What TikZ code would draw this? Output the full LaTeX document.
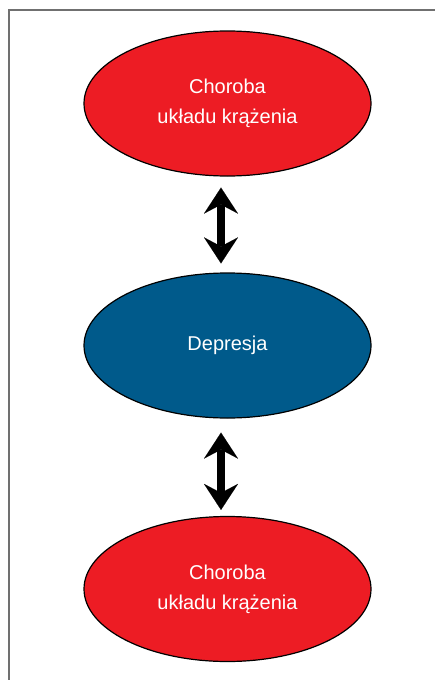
\documentclass[tikz,border=0pt]{standalone}
\usepackage{fontspec}
\setmainfont{Liberation Sans}
\usetikzlibrary{shapes.geometric,arrows.meta}
\definecolor{redfill}{HTML}{ED1C24}
\definecolor{bluefill}{HTML}{005A8B}
\definecolor{framegray}{HTML}{707070}
\tikzset{
  oval/.style={ellipse, draw=black, line width=1.2pt, minimum width=287pt, minimum height=145pt, inner sep=0pt, text=white, align=center, font=\fontsize{20}{30}\selectfont},
  dblarrow/.style={line width=8pt, {Stealth[length=26pt,width=34pt,inset=9pt,line width=0.01pt]}-{Stealth[length=26pt,width=34pt,inset=9pt,line width=0.01pt]}}
}
\begin{document}
\begin{tikzpicture}[x=1pt,y=-1pt]
\useasboundingbox (0,0) rectangle (435,680);
\coordinate (fbl) at (9,680);
\coordinate (ftl) at (9,10);
\coordinate (ftr) at (435,10);
\draw[framegray, line width=1.4pt] (fbl) -- (ftl) -- (ftr);
\node[oval, fill=redfill] (top) at (227.5,103.5) {Choroba\\układu krążenia};
\node[oval, fill=bluefill] (mid) at (227.5,345.5) {Depresja};
\node[oval, fill=redfill] (bot) at (227.5,589) {Choroba\\układu krążenia};
\draw[dblarrow] ([xshift=-6.5pt,yshift=-11pt]top.south) -- ([xshift=-6.5pt,yshift=9pt]mid.north);
\draw[dblarrow] ([xshift=-6.5pt,yshift=-14pt]mid.south) -- ([xshift=-6.5pt,yshift=6pt]bot.north);
\end{tikzpicture}
\end{document}
